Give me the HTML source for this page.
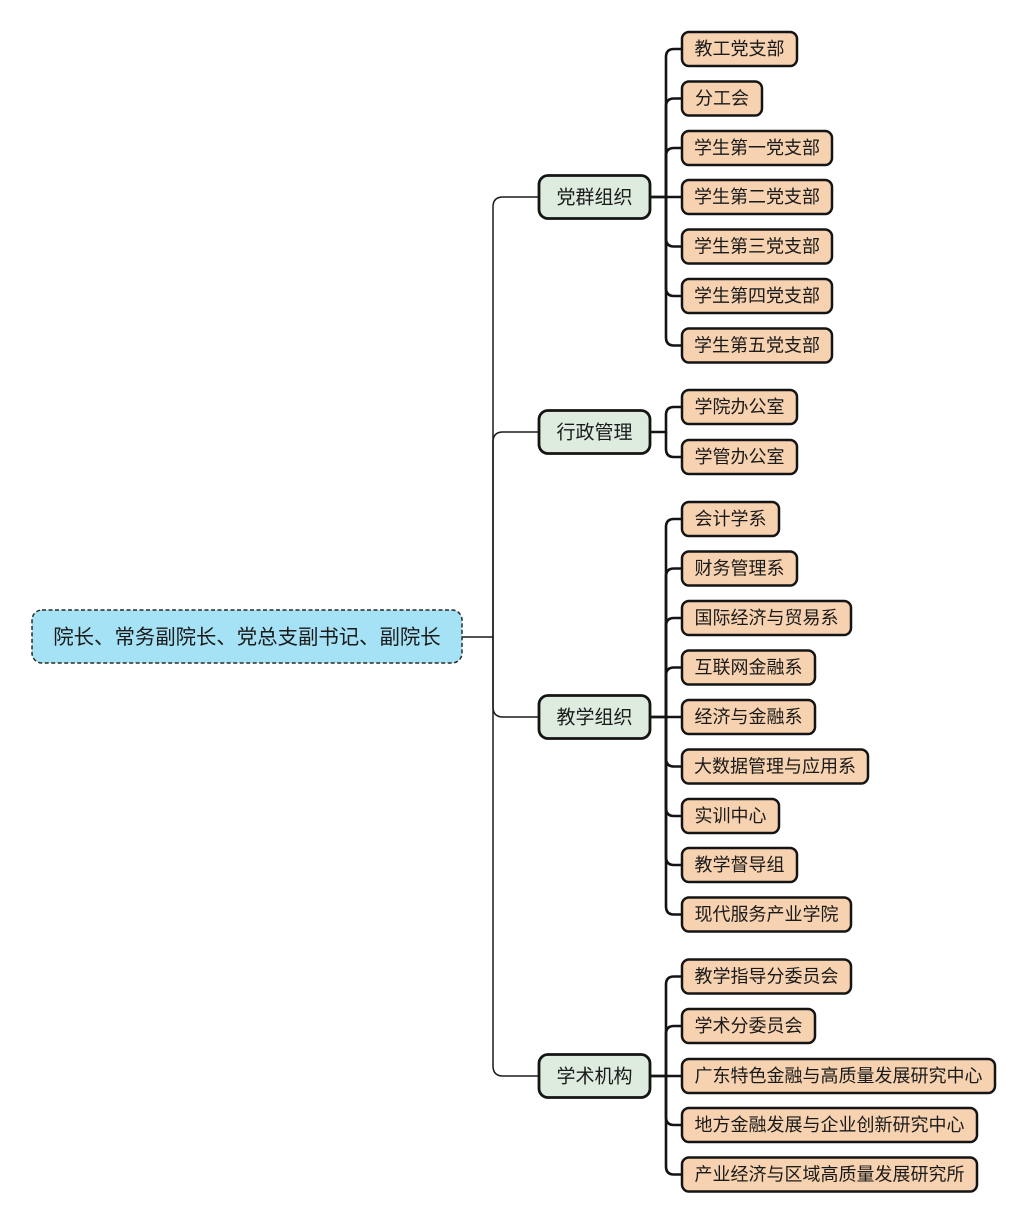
<!DOCTYPE html>
<html>
<head>
<meta charset="utf-8">
<style>
html,body{margin:0;padding:0;background:#fff;}
svg{display:block;}
text{font-family:"Liberation Sans","Noto Sans CJK SC",sans-serif;fill:#1a1a1a;}
.c rect{fill:#f7d2b0;stroke:#141414;stroke-width:2.5;}
.c text{font-size:18px;text-anchor:middle;}
.p rect{fill:#deebdf;stroke:#141414;stroke-width:2.8;}
.p text{font-size:19px;text-anchor:middle;}
.ln{fill:none;stroke:#141414;stroke-width:2.6;}
.mn{fill:none;stroke:#1a1a1a;stroke-width:1.5;}
</style>
</head>
<body>
<svg width="1024" height="1224" viewBox="0 0 1024 1224" xmlns="http://www.w3.org/2000/svg">
<!-- main connectors -->
<path class="mn" d="M462 637 H493 V207 Q493 197 503 197 H539"/>
<path class="mn" d="M493 637 V442 Q493 432 503 432 H539"/>
<path class="mn" d="M493 637 V707 Q493 717 503 717 H539"/>
<path class="mn" d="M493 637 V1066 Q493 1076 503 1076 H539"/>

<!-- group 1 connectors -->
<path class="ln" d="M650 197 H666 V57 Q666 49 674 49 H682"/>
<path class="ln" d="M666 197 V106.5 Q666 98.5 674 98.5 H682"/>
<path class="ln" d="M666 197 V156 Q666 148 674 148 H682"/>
<path class="ln" d="M650 197 H682"/>
<path class="ln" d="M666 197 V238.5 Q666 246.5 674 246.5 H682"/>
<path class="ln" d="M666 197 V288 Q666 296 674 296 H682"/>
<path class="ln" d="M666 197 V337.5 Q666 345.5 674 345.5 H682"/>

<!-- group 2 connectors -->
<path class="ln" d="M650 432 H666 V415 Q666 407 674 407 H682"/>
<path class="ln" d="M666 432 V449 Q666 457 674 457 H682"/>

<!-- group 3 connectors -->
<path class="ln" d="M650 717 H666 V527 Q666 519 674 519 H682"/>
<path class="ln" d="M666 717 V576.5 Q666 568.5 674 568.5 H682"/>
<path class="ln" d="M666 717 V626 Q666 618 674 618 H682"/>
<path class="ln" d="M666 717 V675.5 Q666 667.5 674 667.5 H682"/>
<path class="ln" d="M650 717 H682"/>
<path class="ln" d="M666 717 V758.5 Q666 766.5 674 766.5 H682"/>
<path class="ln" d="M666 717 V808 Q666 816 674 816 H682"/>
<path class="ln" d="M666 717 V857 Q666 865 674 865 H682"/>
<path class="ln" d="M666 717 V906.5 Q666 914.5 674 914.5 H682"/>

<!-- group 4 connectors -->
<path class="ln" d="M650 1076 H666 V984.5 Q666 976.5 674 976.5 H682"/>
<path class="ln" d="M666 1076 V1034 Q666 1026 674 1026 H682"/>
<path class="ln" d="M650 1076 H682"/>
<path class="ln" d="M666 1076 V1117 Q666 1125 674 1125 H682"/>
<path class="ln" d="M666 1076 V1166.5 Q666 1174.5 674 1174.5 H682"/>

<!-- root -->
<rect x="32" y="610" width="430" height="53" rx="10" fill="#a6e2f5" stroke="#2a2a2a" stroke-width="1.5" stroke-dasharray="4 2.5"/>
<text x="247" y="644" font-size="20.4" text-anchor="middle">院长、常务副院长、党总支副书记、副院长</text>

<!-- level 1 -->
<g class="p">
<rect x="539" y="175.5" width="111" height="43" rx="9"/><text x="594.5" y="203.5">党群组织</text>
<rect x="539" y="410.5" width="111" height="43" rx="9"/><text x="594.5" y="438.5">行政管理</text>
<rect x="539" y="695.5" width="111" height="43" rx="9"/><text x="594.5" y="723.5">教学组织</text>
<rect x="539" y="1054.5" width="111" height="43" rx="9"/><text x="594.5" y="1082.5">学术机构</text>
</g>

<!-- children -->
<g class="c">
<rect x="682" y="32" width="115" height="34" rx="7"/><text x="739.5" y="55">教工党支部</text>
<rect x="682" y="81.5" width="80" height="34" rx="7"/><text x="722" y="104.5">分工会</text>
<rect x="682" y="131" width="150" height="34" rx="7"/><text x="757" y="154">学生第一党支部</text>
<rect x="682" y="180" width="150" height="34" rx="7"/><text x="757" y="203">学生第二党支部</text>
<rect x="682" y="229.5" width="150" height="34" rx="7"/><text x="757" y="252.5">学生第三党支部</text>
<rect x="682" y="279" width="150" height="34" rx="7"/><text x="757" y="302">学生第四党支部</text>
<rect x="682" y="328.5" width="150" height="34" rx="7"/><text x="757" y="351.5">学生第五党支部</text>

<rect x="682" y="390" width="115" height="34" rx="7"/><text x="739.5" y="413">学院办公室</text>
<rect x="682" y="440" width="115" height="34" rx="7"/><text x="739.5" y="463">学管办公室</text>

<rect x="682" y="502" width="97" height="34" rx="7"/><text x="730.5" y="525">会计学系</text>
<rect x="682" y="551.5" width="115" height="34" rx="7"/><text x="739.5" y="574.5">财务管理系</text>
<rect x="682" y="601" width="169" height="34" rx="7"/><text x="766.5" y="624">国际经济与贸易系</text>
<rect x="682" y="650.5" width="133" height="34" rx="7"/><text x="748.5" y="673.5">互联网金融系</text>
<rect x="682" y="700" width="133" height="34" rx="7"/><text x="748.5" y="723">经济与金融系</text>
<rect x="682" y="749.5" width="186" height="34" rx="7"/><text x="775" y="772.5">大数据管理与应用系</text>
<rect x="682" y="799" width="97" height="34" rx="7"/><text x="730.5" y="822">实训中心</text>
<rect x="682" y="848" width="115" height="34" rx="7"/><text x="739.5" y="871">教学督导组</text>
<rect x="682" y="897.5" width="169" height="34" rx="7"/><text x="766.5" y="920.5">现代服务产业学院</text>

<rect x="682" y="959.5" width="169" height="34" rx="7"/><text x="766.5" y="982.5">教学指导分委员会</text>
<rect x="682" y="1009" width="133" height="34" rx="7"/><text x="748.5" y="1032">学术分委员会</text>
<rect x="682" y="1059" width="313" height="34" rx="7"/><text x="838.5" y="1082">广东特色金融与高质量发展研究中心</text>
<rect x="682" y="1108" width="295" height="34" rx="7"/><text x="829.5" y="1131">地方金融发展与企业创新研究中心</text>
<rect x="682" y="1157.5" width="295" height="34" rx="7"/><text x="829.5" y="1180.5">产业经济与区域高质量发展研究所</text>
</g>
</svg>
</body>
</html>
